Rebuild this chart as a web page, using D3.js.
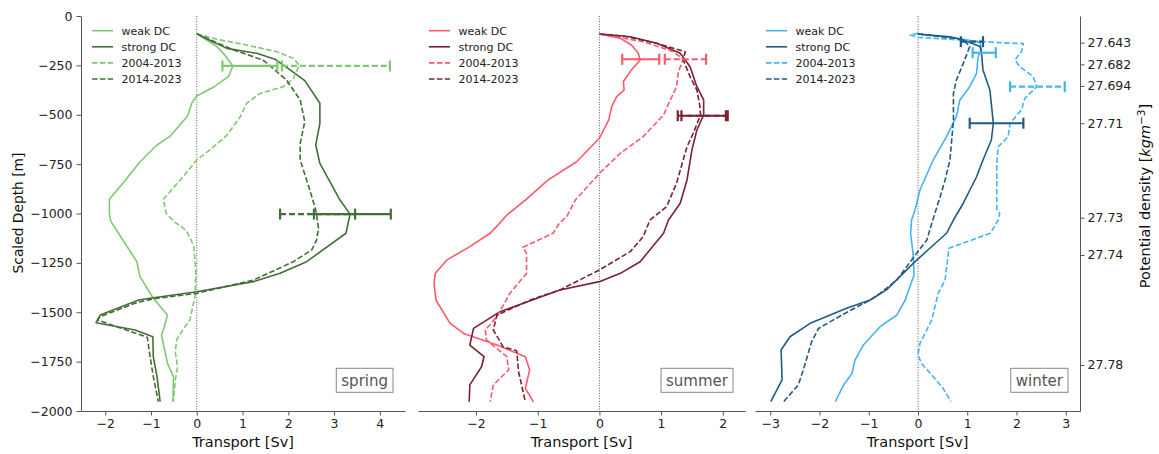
<!DOCTYPE html>
<html>
<head>
<meta charset="utf-8">
<script src="https://cdn.jsdelivr.net/npm/d3@7"></script>
<style>
  body { margin: 0; background: #fff; }
  svg { display: block; font-family: "DejaVu Sans", sans-serif; }
</style>
</head>
<body>
<svg id="chart" width="1159" height="454"></svg>
<script>
// Transport profiles: [scaled depth (m), transport (Sv)]
const springWeak = [[-90,0],[-155,0.44],[-189,0.58],[-253,0.79],[-307,0.69],[-361,0.36],[-405,0],[-442,-0.11],[-506,-0.2],[-608,-0.58],[-653,-0.87],[-738,-1.24],[-834,-1.57],[-928,-1.91],[-1003,-1.91],[-1040,-1.88],[-1100,-1.71],[-1244,-1.31],[-1320,-1.24],[-1429,-0.95],[-1514,-0.64],[-1573,-0.71],[-1615,-0.77],[-1759,-0.64],[-1826,-0.51],[-1953,-0.52]];
const springStrong = [[-90,0],[-130,0.35],[-164,0.66],[-189,1.31],[-219,1.71],[-273,2.04],[-327,2.36],[-442,2.69],[-543,2.69],[-653,2.6],[-746,2.69],[-932,3.13],[-1003,3.35],[-1100,3.26],[-1244,2.4],[-1303,1.82],[-1345,1.24],[-1396,0],[-1429,-1.02],[-1438,-1.27],[-1514,-2.11],[-1553,-2.2],[-1590,-1.35],[-1624,-0.96],[-1725,-0.95],[-1826,-0.87],[-1953,-0.8]];
const spring0413 = [[-90,0],[-118,0.44],[-147,1.09],[-181,1.75],[-214,2.11],[-250,2.24],[-316,2.11],[-358,1.89],[-392,1.38],[-442,1.09],[-510,0.95],[-603,0.66],[-670,0.33],[-729,0],[-830,-0.36],[-928,-0.73],[-999,-0.67],[-1040,-0.5],[-1075,-0.29],[-1092,-0.22],[-1160,-0.07],[-1286,-0.02],[-1421,-0.04],[-1539,-0.15],[-1573,-0.26],[-1640,-0.44],[-1700,-0.47],[-1776,-0.42],[-1843,-0.47],[-1953,-0.51]];
const spring1423 = [[-90,0],[-172,0.8],[-223,1.45],[-324,1.96],[-425,2.26],[-535,2.36],[-645,2.26],[-729,2.26],[-881,2.47],[-982,2.6],[-1075,2.66],[-1134,2.62],[-1185,2.51],[-1244,2.11],[-1337,1.24],[-1404,0],[-1430,-0.9],[-1450,-1.3],[-1522,-2.11],[-1539,-2.17],[-1573,-1.75],[-1627,-1.08],[-1725,-1.02],[-1826,-0.95],[-1953,-0.84]];

const summerWeak = [[-91,0],[-113,0.34],[-147,0.52],[-189,0.63],[-223,0.66],[-273,0.52],[-332,0.39],[-375,0.4],[-408,0.28],[-459,0.2],[-527,0.15],[-619,0],[-738,-0.37],[-830,-0.83],[-932,-1.2],[-1008,-1.5],[-1050,-1.62],[-1100,-1.77],[-1168,-2.1],[-1235,-2.47],[-1303,-2.66],[-1354,-2.68],[-1438,-2.65],[-1556,-2.42],[-1607,-2.2],[-1666,-1.66],[-1725,-1.2],[-1792,-1.13],[-1885,-1.2],[-1953,-1.07]];
const summerStrong = [[-91,0],[-105,0.5],[-138,0.93],[-189,1.31],[-257,1.47],[-358,1.58],[-425,1.69],[-501,1.69],[-577,1.58],[-678,1.5],[-830,1.42],[-948,1.31],[-1033,1.12],[-1100,1.04],[-1244,0.66],[-1303,0.34],[-1345,0],[-1387,-0.64],[-1429,-1.01],[-1497,-1.61],[-1582,-2.04],[-1666,-2.1],[-1725,-1.87],[-1776,-1.91],[-1868,-2.1],[-1953,-2.11]];
const summer0413 = [[-91,0],[-130,0.71],[-181,1.2],[-219,1.36],[-282,1.28],[-358,1.25],[-425,1.15],[-501,1.04],[-611,0.71],[-695,0.34],[-797,0],[-932,-0.39],[-1016,-0.53],[-1050,-0.65],[-1100,-0.75],[-1171,-1.24],[-1202,-1.18],[-1303,-1.18],[-1404,-1.45],[-1522,-1.66],[-1590,-1.85],[-1640,-1.83],[-1725,-1.5],[-1792,-1.47],[-1868,-1.72],[-1953,-1.77]];
const summer1423 = [[-91,0],[-101,0.39],[-138,0.93],[-181,1.39],[-223,1.36],[-307,1.47],[-375,1.58],[-459,1.63],[-501,1.64],[-594,1.52],[-662,1.42],[-847,1.25],[-965,1.09],[-1033,0.82],[-1117,0.71],[-1193,0.5],[-1286,0],[-1387,-0.64],[-1438,-1.12],[-1514,-1.66],[-1590,-1.72],[-1675,-1.56],[-1695,-1.34],[-1801,-1.31],[-1953,-1.2]];

const winterWeak = [[-91,0],[-118,0.92],[-135,1.26],[-172,1.29],[-206,1.22],[-290,1.19],[-358,1.05],[-425,0.85],[-510,0.78],[-611,0.58],[-729,0.31],[-881,0.04],[-982,-0.06],[-1033,-0.13],[-1100,-0.15],[-1202,-0.1],[-1311,-0.08],[-1438,-0.26],[-1514,-0.43],[-1573,-0.77],[-1666,-1.11],[-1742,-1.28],[-1810,-1.34],[-1868,-1.51],[-1953,-1.68]];
const winterStrong = [[-91,0],[-105,0.65],[-122,0.92],[-138,1.09],[-155,1.26],[-189,1.29],[-273,1.32],[-375,1.46],[-543,1.53],[-628,1.49],[-729,1.32],[-814,1.19],[-948,0.92],[-1033,0.72],[-1100,0.58],[-1176,0.24],[-1244,-0.06],[-1387,-0.64],[-1438,-0.97],[-1480,-1.45],[-1556,-2.19],[-1624,-2.6],[-1691,-2.78],[-1843,-2.76],[-1953,-2.99]];
const winter0413 = [[-88,0],[-96,-0.16],[-108,0],[-122,0.89],[-135,1.66],[-140,2.14],[-181,2.1],[-223,1.97],[-257,2.07],[-307,2.34],[-358,2.41],[-417,2.17],[-476,2.1],[-543,1.87],[-611,1.83],[-662,1.63],[-746,1.6],[-982,1.6],[-999,1.66],[-1033,1.63],[-1100,1.47],[-1176,0.63],[-1337,0.55],[-1404,0.41],[-1539,0.28],[-1657,0.04],[-1716,0],[-1759,0.07],[-1818,0.28],[-1885,0.51],[-1953,0.67]];
const winter1423 = [[-91,0],[-118,0.92],[-155,1.05],[-240,0.92],[-324,0.78],[-392,0.72],[-527,0.72],[-729,0.65],[-830,0.55],[-915,0.45],[-1033,0.3],[-1134,0.18],[-1202,-0.03],[-1337,-0.43],[-1404,-0.77],[-1438,-0.97],[-1505,-1.48],[-1582,-2.02],[-1650,-2.16],[-1792,-2.33],[-1868,-2.43],[-1953,-2.73]];

// Error bars: [series, depth (m), low (Sv), high (Sv)]
const springErr = [["weak DC",-253,0.56,1.76],["2004-2013",-253,1.86,4.22],["strong DC",-1003,2.56,4.24],["2014-2023",-1003,1.82,3.46]];
const summerErr = [["weak DC",-219,0.37,0.97],["2004-2013",-219,1.06,1.73],["strong DC",-505,1.33,2.05],["2014-2023",-505,1.27,2.08]];
const winterErr = [["2014-2023",-130,0.87,1.32],["weak DC",-186,1.11,1.58],["2004-2013",-358,1.87,2.98],["strong DC",-543,1.05,2.14]];

const seriesNames = ["weak DC", "strong DC", "2004-2013", "2014-2023"];
const depthTicks = [0, -250, -500, -750, -1000, -1250, -1500, -1750, -2000];
const densityDepths = [-135, -245, -354, -543, -1021, -1210, -1767];
const densityLabels = ["27.643", "27.682", "27.694", "27.71", "27.73", "27.74", "27.78"];
const springTicks = [-2, -1, 0, 1, 2, 3, 4];
const summerTicks = [-2, -1, 0, 1, 2];
const winterTicks = [-3, -2, -1, 0, 1, 2, 3];

// ---- layout and styling ----
const svg = d3.select("#chart");
const plotTop = 16, plotBottom = 411;
const y = d3.scaleLinear().domain([-2000, 0]).range([plotBottom, plotTop]);

const panels = [
  { season: "spring", x0: 81, x1: 405, domain: [-2.53, 4.55], ticks: springTicks,
    light: "#80c972", dark: "#426f38", data: [springWeak, springStrong, spring0413, spring1423], err: springErr },
  { season: "summer", x0: 418, x1: 745, domain: [-2.94, 2.36], ticks: summerTicks,
    light: "#fb5a6c", dark: "#7a2231", data: [summerWeak, summerStrong, summer0413, summer1423], err: summerErr },
  { season: "winter", x0: 755, x1: 1080, domain: [-3.31, 3.29], ticks: winterTicks,
    light: "#45b3f3", dark: "#215b82", data: [winterWeak, winterStrong, winter0413, winter1423], err: winterErr }
];

const spineColor = "#555";
const tickFont = 12.5;
const fmt = d3.format("d");

function styleFor(p, name) {
  const light = name === "weak DC" || name === "2004-2013";
  const dashed = name === "2004-2013" || name === "2014-2023";
  return { color: light ? p.light : p.dark, dash: dashed ? "5.5,2.4" : null };
}

function styleAxis(g) {
  g.selectAll(".domain").attr("stroke", spineColor).attr("stroke-width", 1);
  g.selectAll(".tick line").attr("stroke", spineColor).attr("stroke-width", 1);
  g.selectAll(".tick text").attr("fill", "#222").style("font-size", tickFont + "px")
    .style("font-family", '"DejaVu Sans", sans-serif');
}

panels.forEach((p, pi) => {
  const x = d3.scaleLinear().domain(p.domain).range([p.x0, p.x1]);
  const g = svg.append("g");

  // zero line
  g.append("line")
    .attr("x1", x(0)).attr("x2", x(0)).attr("y1", plotTop).attr("y2", plotBottom)
    .attr("stroke", "#444").attr("stroke-width", 0.9).attr("stroke-dasharray", "1,1.6");

  // profiles
  const line = d3.line().x(d => x(d[1])).y(d => y(d[0]));
  p.data.forEach((series, i) => {
    const st = styleFor(p, seriesNames[i]);
    g.append("path").datum(series)
      .attr("d", line).attr("fill", "none")
      .attr("stroke", st.color).attr("stroke-width", 1.6)
      .attr("stroke-dasharray", st.dash)
      .attr("stroke-linejoin", "round");
  });

  // error bars
  p.err.forEach(e => {
    const st = styleFor(p, e[0]);
    const yy = y(e[1]);
    g.append("line")
      .attr("x1", x(e[2])).attr("x2", x(e[3])).attr("y1", yy).attr("y2", yy)
      .attr("stroke", st.color).attr("stroke-width", 2.2)
      .attr("stroke-dasharray", st.dash ? "6,3" : null);
    [e[2], e[3]].forEach(v => {
      g.append("line")
        .attr("x1", x(v)).attr("x2", x(v)).attr("y1", yy - 5.5).attr("y2", yy + 5.5)
        .attr("stroke", st.color).attr("stroke-width", 2.2);
    });
  });

  // bottom axis
  const ax = g.append("g").attr("transform", `translate(0,${plotBottom})`)
    .call(d3.axisBottom(x).tickValues(p.ticks).tickFormat(fmt).tickSize(4.5).tickSizeOuter(0).tickPadding(4));
  styleAxis(ax);

  g.append("text")
    .attr("x", (p.x0 + p.x1) / 2).attr("y", 447)
    .attr("text-anchor", "middle").attr("fill", "#111")
    .style("font-size", "14.5px").text("Transport [Sv]");

  // legend
  seriesNames.forEach((name, i) => {
    const st = styleFor(p, name);
    const ly = 30.7 + i * 16.1;
    g.append("line")
      .attr("x1", p.x0 + 11).attr("x2", p.x0 + 32).attr("y1", ly).attr("y2", ly)
      .attr("stroke", st.color).attr("stroke-width", 1.6).attr("stroke-dasharray", st.dash);
    g.append("text")
      .attr("x", p.x0 + 40.5).attr("y", ly + 4)
      .attr("fill", "#222").style("font-size", "11px").text(name);
  });

  // season tag
  const bx1 = p.x1 - 12;
  const box = g.append("rect")
    .attr("y", 368.3).attr("height", 24)
    .attr("fill", "#fff").attr("stroke", "#888").attr("stroke-width", 1);
  const tag = g.append("text")
    .attr("y", 385.5).attr("fill", "#555").style("font-size", "15px").text(p.season);
  const w = tag.node().getComputedTextLength();
  tag.attr("x", bx1 - 5 - w);
  box.attr("x", bx1 - w - 10).attr("width", w + 10);

  if (pi === 0) {
    const ay = g.append("g").attr("transform", `translate(${p.x0},0)`)
      .call(d3.axisLeft(y).tickValues(depthTicks).tickFormat(fmt).tickSize(4.5).tickSizeOuter(0).tickPadding(4));
    styleAxis(ay);
    g.append("text")
      .attr("transform", "translate(22.5,213) rotate(-90)")
      .attr("text-anchor", "middle").attr("fill", "#111")
      .style("font-size", "13.8px").text("Scaled Depth [m]");
  }

  if (pi === 2) {
    const ar = g.append("g").attr("transform", `translate(${p.x1},0)`)
      .call(d3.axisRight(y).tickValues(densityDepths)
        .tickFormat((d, i) => densityLabels[i]).tickSize(4.5).tickSizeOuter(0).tickPadding(3));
    styleAxis(ar);
    const t = g.append("text")
      .attr("transform", "translate(1150,196) rotate(-90)")
      .attr("text-anchor", "middle").attr("fill", "#111")
      .style("font-size", "14.5px");
    t.append("tspan").text("Potential density [");
    t.append("tspan").style("font-style", "italic").text("kgm");
    t.append("tspan").attr("dy", -5.5).style("font-size", "10.5px").text("\u22123");
    t.append("tspan").attr("dy", 5.5).text("]");
  }
});
</script>
</body>
</html>
